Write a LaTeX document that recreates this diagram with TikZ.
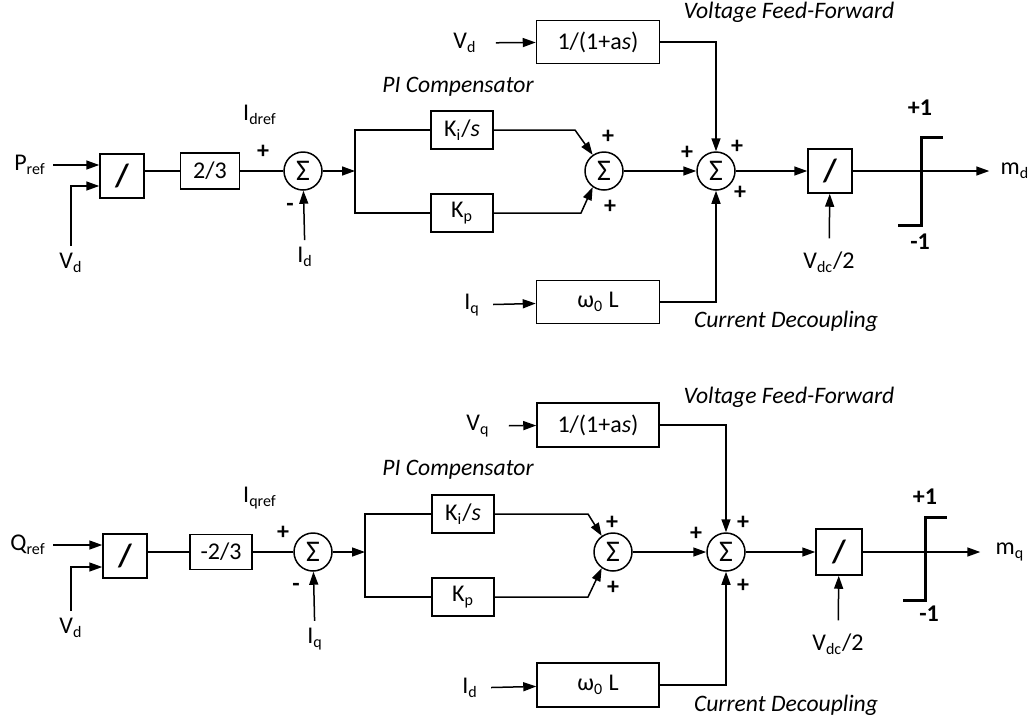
\documentclass[tikz,border=0pt]{standalone}
\usepackage{fontspec}
\setmainfont{Carlito}
\usetikzlibrary{arrows.meta}

\begin{document}
\begin{tikzpicture}[x=0.5pt, y=-0.5pt, >={Triangle[length=6.5pt,width=4.5pt]}, font=\fontsize{12}{14}\selectfont, line width=0.75pt]
    \tikzstyle{block} = [rectangle, draw, inner sep=0pt, minimum width=31pt, minimum height=21.5pt]
    \tikzstyle{divbox} = [rectangle, draw, inner sep=0pt, minimum size=22pt, font=\fontsize{16}{18}\selectfont\bfseries]
    \tikzstyle{sum} = [circle, draw, inner sep=0pt, minimum size=19pt, font=\fontsize{15}{17}\selectfont]
    \tikzstyle{arrow} = [->]
    \tikzstyle{sign} = [font=\fontsize{12}{14}\selectfont\bfseries]
    \tikzstyle{note} = [font=\fontsize{11.8}{14}\selectfont\itshape]
    \tikzstyle{limit} = [line width=1.5pt]

    \useasboundingbox (0,0) rectangle (1034,719);

    \node (pref) at (30,165) {P\textsubscript{ref}};
    \node (vdd) at (71,263) {V\textsubscript{d}};
    \node [divbox] (divd) at (122,176) {/};
    \node [block, minimum width=29.5pt, minimum height=18pt] (gaind) at (210,171) {2/3};
    \node (idrefd) at (260,115) {I\textsubscript{dref}};
    \node [sum] (errd) at (303,171) {Σ};
    \node [sign] at (263,152) {+};
    \node [sign] at (290,207) {-};
    \node (idd) at (305,257) {I\textsubscript{d}};
    \coordinate (brd) at (355,171);
    \node [note] (pid) at (458,87) {PI Compensator};
    \node [block, minimum height=19pt] (kid) at (462,130) {K\textsubscript{i}/\textit{s}};
    \node [block, minimum height=19pt] (kpd) at (462,213) {K\textsubscript{p}};
    \coordinate (kinkd1) at (575,130);
    \coordinate (kinkd2) at (581,213);
    \node [sum] (picd) at (604,171) {Σ};
    \node [sign] at (608,137) {+};
    \node [sign] at (610,207) {+};
    \node (vdff) at (465,43) {V\textsubscript{d}};
    \node [block, minimum width=61.5pt] (ffd) at (598,42) {1/(1+a\textit{s})};
    \node (iqdc) at (472,305) {I\textsubscript{q}};
    \node [block, minimum width=61.5pt] (dcd) at (598,302) {ω\textsubscript{0} L};
    \node [note] at (789,12) {Voltage Feed-Forward};
    \node [note] at (786,321) {Current Decoupling};
    \node [sum] (totd) at (716,171) {Σ};
    \node [sign] at (687,153) {+};
    \node [sign] at (737,147) {+};
    \node [sign] at (740,193) {+};
    \node [divbox] (modd) at (830,171) {/};
    \node (vdcd) at (829,262) {V\textsubscript{dc}/2};
    \coordinate (satd) at (921,171);
    \node [sign] at (920,108) {+1};
    \node [sign] at (920,242) {-1};
    \node (md) at (1015,171) {m\textsubscript{d}};

    \draw [arrow] (pref) -- (pref -| divd.west);
    \draw [arrow] (vdd) |- ([yshift=-5pt]divd.west);
    \draw (divd.east |- gaind) -- (gaind);
    \draw (gaind) -- (errd);
    \draw [arrow] (idd) -- (errd);
    \draw [arrow] (errd) -- (brd);
    \draw (kid) -| (brd) |- (kpd);
    \draw [arrow] (kid) -- (kinkd1) -- (picd.125);
    \draw [arrow] (kpd) -- (kinkd2) -- (picd.235);
    \draw [arrow] (picd) -- (totd);
    \draw [arrow, shorten <=6pt] (vdff) -- (ffd);
    \draw [arrow, shorten <=3pt] (iqdc) -- (dcd);
    \draw [arrow] (ffd) -| (totd);
    \draw [arrow] (dcd) -| (totd);
    \draw [arrow] (totd) -- (modd);
    \draw [arrow, shorten <=3pt] (vdcd) -- (modd);
    \draw [arrow, shorten >=2pt] (modd) -- (md);
    \draw [limit] ([shift={(-23,54)}]satd) -- ([shift={(0,54)}]satd) -- ([shift={(0,-34)}]satd) -- ([shift={(22,-34)}]satd);

    \node (qref) at (28,545) {Q\textsubscript{ref}};
    \node (vdq) at (71,628) {V\textsubscript{d}};
    \node [divbox] (divq) at (125,556) {/};
    \node [block, minimum width=31pt, minimum height=17.5pt] (gainq) at (221,552) {-2/3};
    \node (iqrefq) at (260,498) {I\textsubscript{qref}};
    \node [sum] (errq) at (313,552) {Σ};
    \node [sign] at (283,533) {+};
    \node [sign] at (296,587) {-};
    \node (iqq) at (315,639) {I\textsubscript{q}};
    \coordinate (brq) at (365,552);
    \node [note] (piq) at (458,470) {PI Compensator};
    \node [block, minimum height=19pt] (kiq) at (463,514) {K\textsubscript{i}/\textit{s}};
    \node [block, minimum height=19pt] (kpq) at (463,597) {K\textsubscript{p}};
    \coordinate (kinkq1) at (588,514);
    \coordinate (kinkq2) at (588,597);
    \node [sum] (picq) at (613,552) {Σ};
    \node [sign] at (612,523) {+};
    \node [sign] at (613,588) {+};
    \node (vqff) at (478,426) {V\textsubscript{q}};
    \node [block, minimum width=61pt, minimum height=22pt] (ffq) at (598,425) {1/(1+a\textit{s})};
    \node (iddc) at (470,688) {I\textsubscript{d}};
    \node [block, minimum width=61pt, minimum height=22pt] (dcq) at (598,685) {ω\textsubscript{0} L};
    \node [note] at (789,397) {Voltage Feed-Forward};
    \node [note] at (786,705) {Current Decoupling};
    \node [sum] (totq) at (726,552) {Σ};
    \node [sign] at (696,534) {+};
    \node [sign] at (743,523) {+};
    \node [sign] at (743,586) {+};
    \node [divbox, minimum size=23pt] (modq) at (839,552) {/};
    \node (vdcq) at (838,644) {V\textsubscript{dc}/2};
    \coordinate (satq) at (925,552);
    \node [sign] at (925,497) {+1};
    \node [sign] at (929,614) {-1};
    \node (mq) at (1010,552) {m\textsubscript{q}};

    \draw [arrow] (qref) -- (qref -| divq.west);
    \draw [arrow] (vdq) |- ([yshift=-5.5pt]divq.west);
    \draw (divq.east |- gainq) -- (gainq);
    \draw (gainq) -- (errq);
    \draw [arrow] (iqq) -- (errq);
    \draw [arrow] (errq) -- (brq);
    \draw (kiq) -| (brq) |- (kpq);
    \draw [arrow] (kiq) -- (kinkq1) -- (picq.125);
    \draw [arrow] (kpq) -- (kinkq2) -- (picq.235);
    \draw [arrow] (picq) -- (totq);
    \draw [arrow, shorten <=6pt] (vqff) -- (ffq);
    \draw [arrow, shorten <=3pt] (iddc) -- (dcq);
    \draw [arrow] (ffq) -| (totq);
    \draw [arrow] (dcq) -| (totq);
    \draw [arrow] (totq) -- (modq);
    \draw [arrow, shorten <=3pt] (vdcq) -- (modq);
    \draw [arrow, shorten >=4pt] (modq) -- (mq);
    \draw [limit] ([shift={(-22,48)}]satq) -- ([shift={(0,48)}]satq) -- ([shift={(0,-35)}]satq) -- ([shift={(22,-35)}]satq);
\end{tikzpicture}
\end{document}
